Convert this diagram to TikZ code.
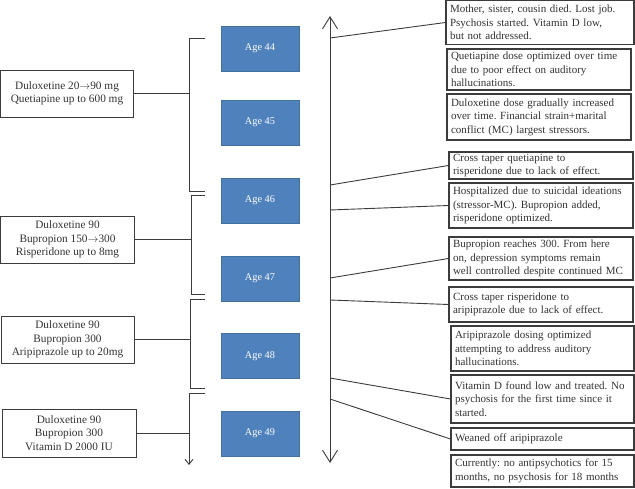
\documentclass[tikz,border=0pt]{standalone}
\usepackage{fontspec}
\setmainfont{Liberation Serif}
\usetikzlibrary{arrows.meta}
\definecolor{linegray}{RGB}{60,60,60}
\definecolor{textgray}{RGB}{50,50,50}
\definecolor{agefill}{RGB}{79,129,189}
\definecolor{ageedge}{RGB}{65,113,156}
\frenchspacing
\begin{document}
\begin{tikzpicture}[x=1bp,y=-1bp,
		agebox/.style={draw=ageedge,fill=agefill,text=white,minimum width=78bp,minimum height=45bp,inner sep=0,font=\fontsize{10.3bp}{12bp}\selectfont},
		drugbox/.style={draw=linegray,line width=0.9bp,text=textgray,align=center,inner sep=0,minimum height=47bp,font=\fontsize{11.3bp}{13.5bp}\selectfont},
		notebox/.style={draw=linegray,line width=1.1bp,text=textgray,align=left,inner xsep=4bp,inner ysep=0,font=\fontsize{11bp}{13.5bp}\selectfont},
		link/.style={draw=linegray,line width=0.9bp}]
		\useasboundingbox (0,0) rectangle (635,489);
		\foreach \a/\y in {44/48.5,45/122.5,46/200.5,47/278.5,48/356,49/433.5}
		{
			\node[agebox] (age\a) at (260,\y) {Age \a};
		}
		\node[drugbox,minimum width=133bp] (drug1) at (67,93.5) {Duloxetine 20$\to$90 mg\\Quetiapine up to 600 mg};
		\node[drugbox,minimum width=134bp] (drug2) at (67.5,239.5) {Duloxetine 90\\Bupropion 150$\to$300\\Risperidone up to 8mg};
		\node[drugbox,minimum width=133bp] (drug3) at (67.5,339.5) {Duloxetine 90\\Bupropion 300\\Aripiprazole up to 20mg};
		\node[drugbox,minimum width=134bp,minimum height=48bp] (drug4) at (69,433) {Duloxetine 90\\Bupropion 300\\Vitamin D 2000 IU};
		\foreach \x/\t/\b in {189/38/191,191/195/294,190/299/388}
		{
			\draw[link] (205,\t) -| (\x,\b) -- (205,\b);
		}
		\draw[link,-{Straight Barb[length=5bp,width=8bp]}] (205,393) -| (189,465);
		\coordinate (b1) at (189,93.5);
		\coordinate (b2) at (191,239.5);
		\coordinate (b3) at (190,339.5);
		\coordinate (b4) at (189,433);
		\foreach \i in {1,...,4}
		{
			\draw[link] (drug\i.east) -- (b\i);
		}
		\node[notebox,text width=180bp,minimum height=44bp] (note1) at (540,22.5) {Mother, sister, cousin died. Lost job.\\Psychosis started. Vitamin D low,\\but not addressed.};
		\node[notebox,text width=176bp,minimum height=41bp] (note2) at (539,69.5) {Quetiapine dose optimized over time\\due to poor effect on auditory\\hallucinations.};
		\node[notebox,text width=176bp,minimum height=46bp] (note3) at (539,117) {Duloxetine dose gradually increased\\over time. Financial strain+marital\\conflict (MC) largest stressors.};
		\node[notebox,text width=176bp,minimum height=27bp] (note4) at (541,165.5) {Cross taper quetiapine to\\risperidone due to lack of effect.};
		\node[notebox,text width=176bp,minimum height=45bp] (note5) at (541,205.5) {Hospitalized due to suicidal ideations\\(stressor-MC). Bupropion added,\\risperidone optimized.};
		\node[notebox,text width=176bp,minimum height=43bp] (note6) at (541,258.5) {Bupropion reaches 300. From here\\on, depression symptoms remain\\well controlled despite continued MC};
		\node[notebox,text width=176bp,minimum height=35bp] (note7) at (541,304.5) {Cross taper risperidone to\\aripiprazole due to lack of effect.};
		\node[notebox,text width=175bp,minimum height=45bp] (note8) at (542.5,348.5) {Aripiprazole dosing optimized\\attempting to address auditory\\hallucinations.};
		\node[notebox,text width=175bp,minimum height=48bp] (note9) at (542.5,399) {Vitamin D found low and treated. No\\psychosis for the first time since it\\started.};
		\node[notebox,text width=175bp,minimum height=22bp] (note10) at (542.5,439) {Weaned off aripiprazole};
		\node[notebox,text width=175bp,minimum height=32bp] (note11) at (542.5,471) {Currently: no antipsychotics for 15\\months, no psychosis for 18 months};
		\coordinate (ttop) at (330,16);
		\coordinate (tbot) at (330,463);
		\draw[link,{Straight Barb[length=12bp,width=15bp]}-{Straight Barb[length=12bp,width=15bp]}] (ttop) -- (tbot);
		\foreach \n/\y in {1/38,4/185,5/210,6/278,7/300,9/378,10/399}
		{
			\coordinate (t\n) at (330,\y);
			\draw[link] (t\n) -- (note\n.west);
		}
\end{tikzpicture}
\end{document}
